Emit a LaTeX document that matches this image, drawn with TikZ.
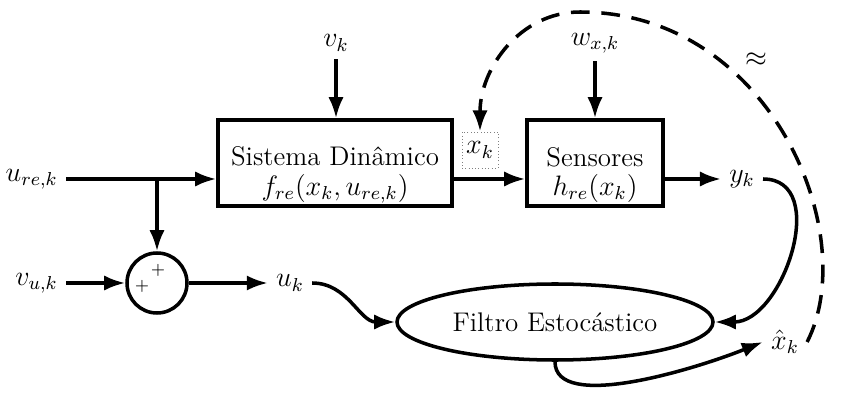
\documentclass[tikz,border=0pt]{standalone}
\usepackage{tikz}
\usetikzlibrary{shapes.geometric,arrows.meta,positioning}

\begin{document}
\begin{tikzpicture}[x=0.015cm,y=0.015cm,
  every node/.style={font=\fontsize{11.5}{12.5}\selectfont},
  seta/.style={-{Latex[length=9pt,width=6.5pt]},line width=1.5pt},
  bloco/.style={draw,line width=1.5pt,minimum height=1.29cm}]
\useasboundingbox (0,0) rectangle (848,394);

% blocos
\node [bloco, minimum width=3.51cm] (sis) at (335,231) {};
\node [align=center] (sistxt) at (335,219) {Sistema Din\^amico\\$f_{re}(x_k,u_{re,k})$};
\node [bloco, minimum width=2.04cm] (sen) at (595,231) {};
\node [align=center] (sentxt) at (595,219) {Sensores\\$h_{re}(x_k)$};
\node [draw=gray, densely dotted, thin, minimum size=0.54cm, inner sep=1pt] (xk) at (480,244) {$x_k$};
\node [draw, circle, line width=1.5pt, minimum size=0.9cm] (soma) at (157,111) {};
\node [font=\scriptsize] (mais1) at (142,108) {$+$};
\node [font=\scriptsize] (mais2) at (158,124) {$+$};
\node [draw, ellipse, line width=1.5pt, minimum width=4.74cm, minimum height=1.14cm] (filtro) at (555,72) {Filtro Estoc\'astico};

% sinais
\node [anchor=east] (ure) at (66,215) {$u_{re,k}$};
\node [anchor=east] (vuk) at (66,111) {$v_{u,k}$};
\node (vk) at (336,351) {$v_k$};
\node (wxk) at (595,351) {$w_{x,k}$};
\node (uk) at (290,111) {$u_k$};
\node (yk) at (742,215) {$y_k$};
\node (xhat) at (785,52) {$\hat{x}_k$};
\node (aprox) at (756,334) {$\approx$};
\coordinate (ramo) at (157,215);
\coordinate (topo) at (580,382);

\draw [seta] (ure.east) -- (ramo) -- (sis.west |- ramo);
\draw [seta] (sis.east |- ramo) -- (sen.west |- ramo);
\draw [seta] (sen.east |- ramo) -- (yk.west);
\draw [seta] (vk.south) -- (vk.south |- sis.north);
\draw [seta] (wxk.south) -- (wxk.south |- sen.north);
\draw [seta] (ramo) -- (soma.north);
\draw [seta] (vuk.east) -- (soma.west);
\draw [seta] (soma.east) -- (uk.west);
\draw [seta] (uk.east) to[out=0,in=180] (filtro.west);
\draw [seta] (yk.east) .. controls +(68,0) and +(68,0) .. (filtro.east);
\draw [seta] (filtro.south) .. controls +(0,-50) and +(-70,-28) .. (xhat.west);
\draw [seta, dash pattern=on 8pt off 5pt] (xhat.east) .. controls +(55,108) and +(190,0) .. (topo)
  .. controls +(-60,0) and +(0,63) .. (xk.north);
\end{tikzpicture}
\end{document}
